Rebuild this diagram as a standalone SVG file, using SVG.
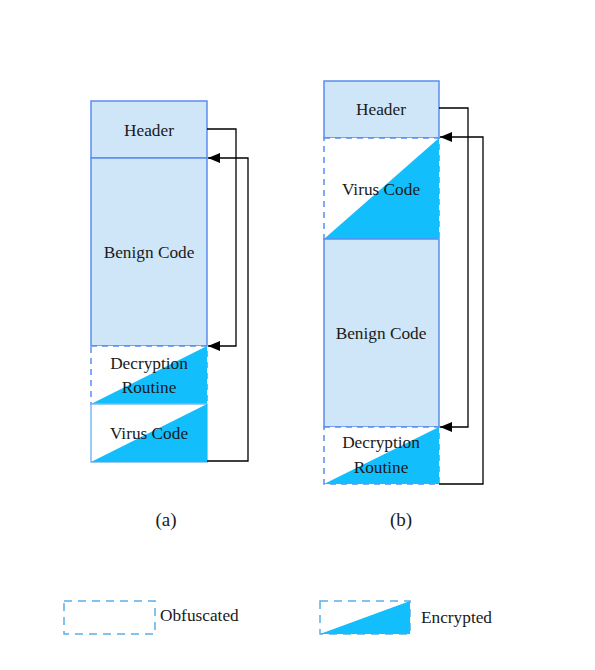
<svg xmlns="http://www.w3.org/2000/svg" width="595" height="670" viewBox="0 0 595 670">
<defs>
<marker id="arr" viewBox="0 0 12 10" refX="12" refY="5" markerWidth="12" markerHeight="10" markerUnits="userSpaceOnUse" orient="auto">
<path d="M0,0 L12,5 L0,10 z" fill="#000"/>
</marker>
<style>
.t{font-size:17.3px;fill:#1a1a1a;text-anchor:middle}
.l{font-size:17.3px;fill:#1a1a1a;text-anchor:start}
.cap{font-size:19px;fill:#1a1a1a;text-anchor:middle}
.solid{fill:#CFE6F8;stroke:#5B8DEF;stroke-width:1.5}
.dash{fill:#fff;stroke:#5B8DEF;stroke-width:1.5;stroke-dasharray:6,5}
.ldash{fill:none;stroke:#5BAEEA;stroke-width:1.5;stroke-dasharray:8,6}
.vc{fill:#fff;stroke:#7EB8F2;stroke-width:1.5}
.tri{fill:#12BFFC}
.conn{fill:none;stroke:#000;stroke-width:1.3}
</style>
</defs>
<rect width="595" height="670" fill="#fff"/>
<g font-family="'Liberation Serif', 'Times New Roman', serif">
<!-- (a) -->
<g id="a-header"><rect class="solid" x="91" y="101" width="116" height="57"/><text class="t" x="149" y="136">Header</text></g>
<g id="a-benign"><rect class="solid" x="91" y="158" width="116" height="188"/><text class="t" x="149" y="258">Benign Code</text></g>
<g id="a-decrypt"><rect class="dash" x="91" y="346" width="116" height="58"/><path class="tri" d="M91,404 L207,346 L207,404 z"/><text class="t" x="149" y="369">Decryption</text><text class="t" x="149" y="393">Routine</text></g>
<g id="a-virus"><rect class="vc" x="91" y="404" width="116" height="58"/><path class="tri" d="M91,462 L207,404 L207,462 z"/><text class="t" x="149" y="439">Virus Code</text></g>
<text class="cap" x="166" y="526">(a)</text>
<!-- (b) -->
<g id="b-header"><rect class="solid" x="324" y="81" width="115" height="57"/><text class="t" x="381" y="115">Header</text></g>
<g id="b-virus"><rect class="dash" x="324" y="138" width="115" height="101"/><path class="tri" d="M324,239 L439,138 L439,239 z"/><text class="t" x="381" y="195">Virus Code</text></g>
<g id="b-benign"><rect class="solid" x="324" y="239" width="115" height="188"/><text class="t" x="381" y="339">Benign Code</text></g>
<g id="b-decrypt"><rect class="dash" x="324" y="427" width="115" height="57"/><path class="tri" d="M324,484 L439,427 L439,484 z"/><text class="t" x="381" y="448">Decryption</text><text class="t" x="381" y="473">Routine</text></g>
<text class="cap" x="401" y="526">(b)</text>
<!-- connectors -->
<g id="connectors">
<path class="conn" d="M207,129 H236 V346 H208" marker-end="url(#arr)"/>
<path class="conn" d="M207,461 H248 V158 H208" marker-end="url(#arr)"/>
<path class="conn" d="M439,108 H468 V427 H440" marker-end="url(#arr)"/>
<path class="conn" d="M439,484 H483 V137 H440" marker-end="url(#arr)"/>
</g>
<!-- legend -->
<g id="legend-obf"><rect class="ldash" x="64" y="601" width="91" height="33"/><text class="l" x="160" y="621">Obfuscated</text></g>
<g id="legend-enc"><rect class="ldash" x="320" y="601" width="90" height="33"/><path class="tri" d="M320,634 L410,601 L410,634 z"/><text class="l" x="421" y="623">Encrypted</text></g>
</g>
</svg>
